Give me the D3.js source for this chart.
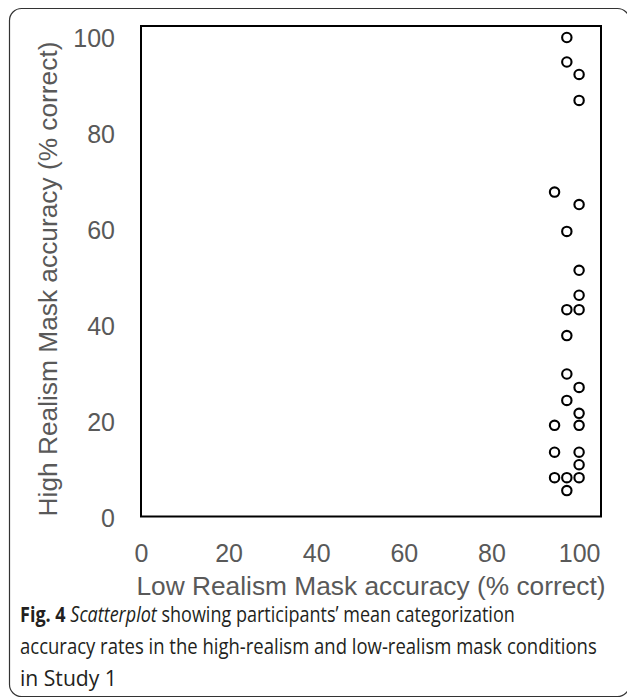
<!DOCTYPE html>
<meta charset="utf-8">
<head>
<style>
  body { margin: 0; background: #fff; }
  svg { display: block; }
  .tick text { fill: #595959; font-family: "Liberation Sans", Arial, sans-serif; font-size: 25px; }
  .title { fill: #595959; font-family: "Liberation Sans", Arial, sans-serif; font-size: 26.3px; }
  .caption { fill: #231f20; font-family: "Open Sans", "Noto Sans", sans-serif; font-size: 21.5px; }
</style>
</head>
<body>
<svg id="chart" width="627" height="700"></svg>
<script src="https://d3js.org/d3.v7.min.js"></script>
<script>
// participants: low-realism accuracy (x) vs high-realism accuracy (y)
var lowRealism  = [97.2, 97.2, 100, 100, 94.4, 100, 97.2, 100, 100, 97.2, 100, 97.2, 97.2, 100, 97.2, 100, 94.4, 100, 94.4, 100, 100, 94.4, 97.2, 100, 97.2];
var highRealism = [100, 94.9, 92.3, 86.9, 67.8, 65.2, 59.6, 51.5, 46.3, 43.3, 43.3, 37.9, 29.9, 27.1, 24.4, 21.7, 19.2, 19.2, 13.6, 13.6, 11.0, 8.3, 8.3, 8.3, 5.6];
var tickValues = [0, 20, 40, 60, 80, 100];
var xLabel = "Low Realism Mask accuracy (% correct)";
var yLabel = "High Realism Mask accuracy (% correct)";

var svg = d3.select("#chart");

// outer rounded frame (right side runs off the page)
svg.append("rect")
  .attr("x", 9.5).attr("y", 8.5)
  .attr("width", 620).attr("height", 688)
  .attr("rx", 12)
  .attr("fill", "none")
  .attr("stroke", "#333")
  .attr("stroke-width", 1.2);

var pLeft = 141, pRight = 601, pTop = 26, pBottom = 516.5;

var x = d3.scaleLinear().domain([0, 105]).range([pLeft, pRight]);
var y = d3.scaleLinear().domain([0, 100]).range([517.5, 37.5]);

// plot box
svg.append("rect")
  .attr("x", pLeft).attr("y", pTop)
  .attr("width", pRight - pLeft).attr("height", pBottom - pTop)
  .attr("fill", "none")
  .attr("stroke", "#000")
  .attr("stroke-width", 2);

var gy = svg.append("g")
  .attr("transform", "translate(" + pLeft + ",0)")
  .call(d3.axisLeft(y).tickValues(tickValues).tickSize(0).tickPadding(26));
gy.select(".domain").remove();
gy.selectAll(".tick text").attr("dy", "0.36em");

var gx = svg.append("g")
  .attr("transform", "translate(0," + pBottom + ")")
  .call(d3.axisBottom(x).tickValues(tickValues).tickSize(0));
gx.select(".domain").remove();
gx.selectAll(".tick text").attr("y", 45).attr("dy", null);

svg.append("text")
  .attr("class", "title")
  .attr("text-anchor", "middle")
  .attr("x", (pLeft + pRight) / 2)
  .attr("y", 595)
  .text(xLabel);

svg.append("text")
  .attr("class", "title")
  .attr("text-anchor", "middle")
  .attr("transform", "translate(57,279) rotate(-90)")
  .text(yLabel);

var pts = lowRealism.map(function(v, i) { return {x: v, y: highRealism[i]}; });

svg.selectAll(".pt")
  .data(pts)
  .enter()
  .append("circle")
  .attr("class", "pt")
  .attr("cx", function(d) { return x(d.x); })
  .attr("cy", function(d) { return y(d.y); })
  .attr("r", 4.7)
  .attr("fill", "#fff")
  .attr("stroke", "#000")
  .attr("stroke-width", 2.1);

// caption, squeezed to the width of the original condensed face
var captionLines = [
  [{t: "Fig. 4", w: "bold"}, {t: " "}, {t: "Scatterplot", s: "italic"}, {t: " showing participants\u2019 mean categorization"}],
  [{t: "accuracy rates in the high-realism and low-realism mask conditions"}],
  [{t: "in Study 1"}]
];
var captionWidths = [495, 577, 97];
var captionBase = [622, 654, 686];

captionLines.forEach(function(parts, i) {
  var t = svg.append("text").attr("class", "caption");
  parts.forEach(function(p) {
    t.append("tspan")
      .attr("font-weight", p.w || null)
      .attr("font-style", p.s || null)
      .text(p.t);
  });
  var w = t.node().getComputedTextLength();
  var k = captionWidths[i] / w;
  t.attr("transform", "translate(20," + captionBase[i] + ") scale(" + k + ",1)");
});
</script>
</body>
